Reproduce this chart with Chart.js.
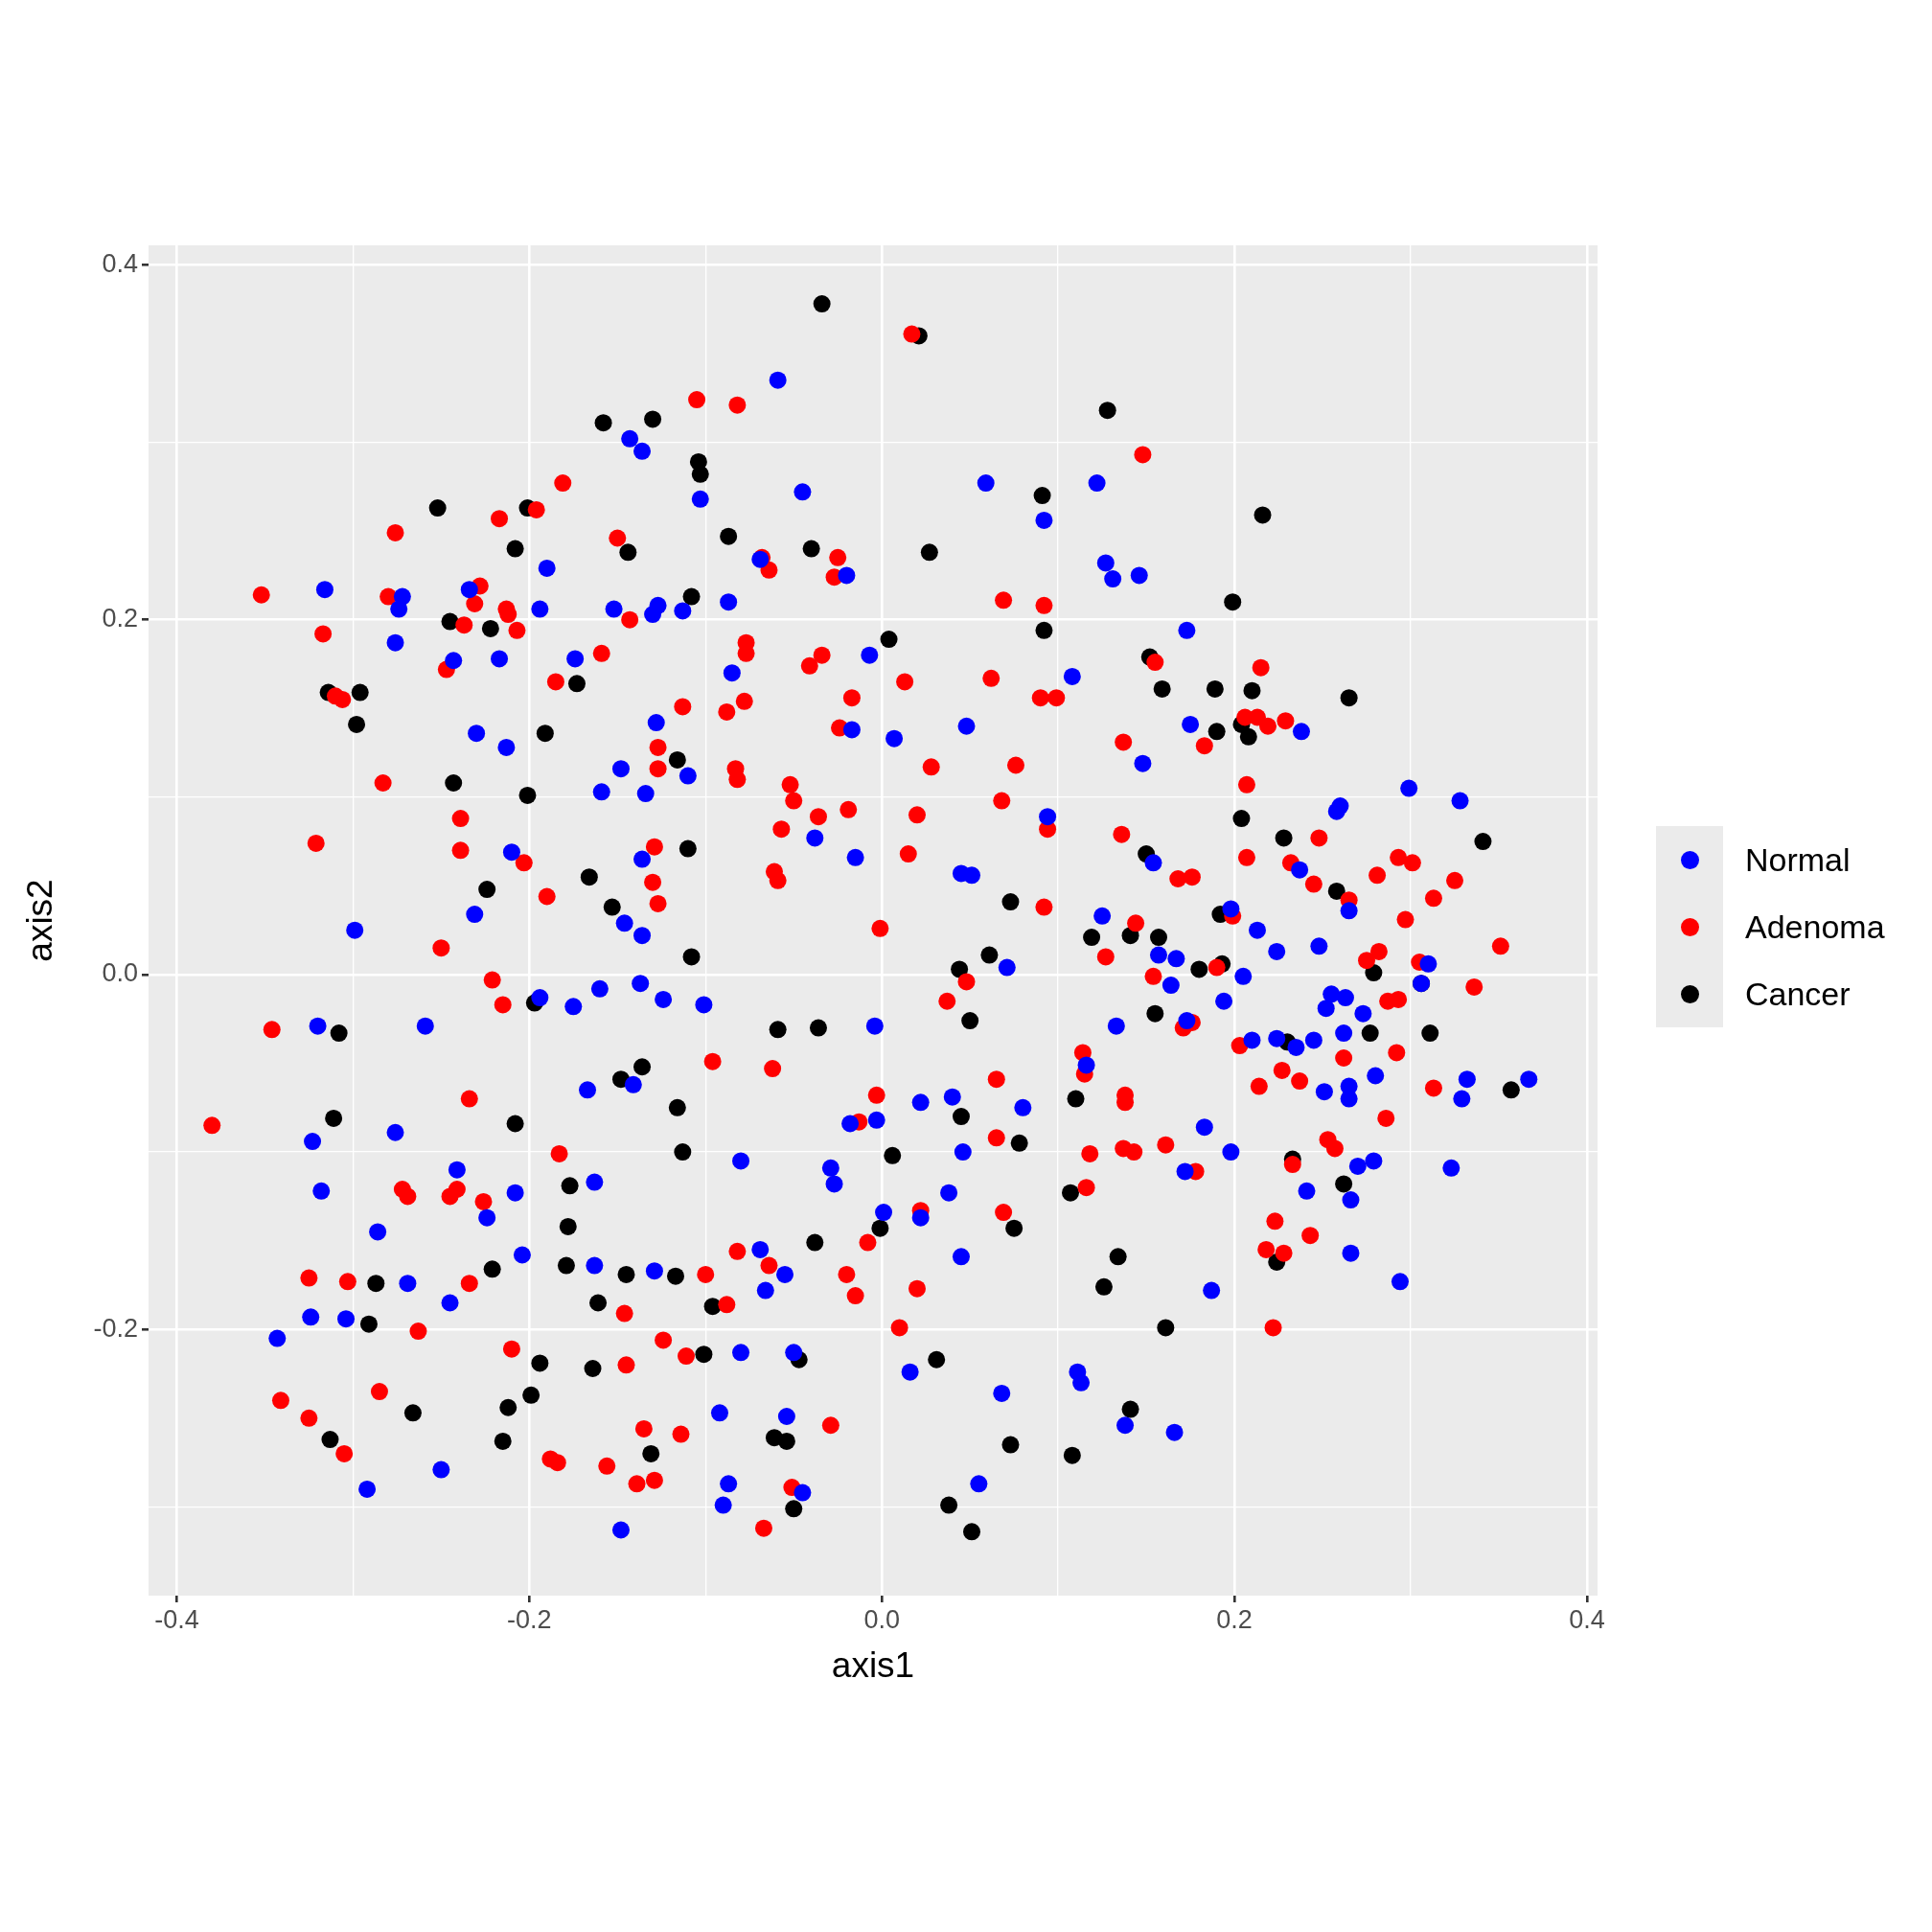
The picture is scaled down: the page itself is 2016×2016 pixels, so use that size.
<!DOCTYPE html>
<html><head><meta charset="utf-8">
<script src="https://cdn.jsdelivr.net/npm/chart.js@4"></script>
<style>
html,body{margin:0;padding:0;background:#fff;}
#wrap{position:relative;width:2016px;height:2016px;}
#legend{position:absolute;left:1728px;top:862px;font-family:"Liberation Sans",Arial,sans-serif;font-size:34px;color:#000;}
.row{position:relative;height:70px;}
.key{position:absolute;left:0;top:0;width:70px;height:70px;background:#EBEBEB;}
.dot{position:absolute;left:26px;top:26px;width:19px;height:19px;border-radius:50%;}
.lab{position:absolute;left:93px;top:16px;white-space:nowrap;}
</style></head>
<body><div id="wrap"><canvas id="c" width="2016" height="2016"></canvas>
<div id="legend"></div></div>
<script>
const seriesNames=["Normal","Adenoma","Cancer"];
const seriesColors=["#0000FF","#FF0000","#000000"];
const xTicks=[-0.4,-0.2,0.0,0.2,0.4];
const yTicks=[-0.2,0.0,0.2,0.4];
const normalX=[-0.316,-0.272,-0.274,-0.276,-0.234,-0.243,-0.217,-0.230,-0.213,-0.190,-0.194,-0.174,-0.152,-0.143,-0.136,-0.130,-0.127,-0.113,-0.128,-0.148,-0.159,-0.134,-0.110,-0.103,-0.087,-0.085,-0.059,-0.045,-0.069,-0.020,-0.007,-0.017,0.007,-0.038,-0.015,0.059,0.092,0.122,0.108,0.127,0.131,0.146,0.148,0.173,0.175,0.238,0.048,0.045,0.051,0.094,0.125,0.154,0.157,0.167,0.164,0.173,0.194,0.198,0.213,0.205,0.224,0.237,0.248,0.265,0.260,0.258,0.299,0.328,0.310,0.306,-0.299,-0.320,-0.259,-0.210,-0.231,-0.194,-0.175,-0.160,-0.146,-0.136,-0.136,-0.137,-0.124,-0.101,-0.167,-0.141,-0.163,-0.129,-0.163,-0.204,-0.208,-0.224,-0.241,-0.245,-0.269,-0.286,-0.276,-0.318,-0.323,-0.324,-0.304,-0.343,-0.250,-0.292,-0.080,-0.080,-0.092,-0.087,-0.090,-0.069,-0.066,-0.055,-0.050,-0.054,-0.045,-0.148,-0.029,-0.027,-0.018,-0.004,-0.003,0.001,0.022,0.022,0.016,0.040,0.038,0.046,0.045,0.071,0.080,0.068,0.055,0.116,0.111,0.113,0.133,0.138,0.166,0.172,0.183,0.187,0.198,0.210,0.224,0.235,0.245,0.252,0.255,0.263,0.262,0.265,0.265,0.266,0.266,0.270,0.273,0.279,0.280,0.251,0.241,0.294,0.323,0.329,0.332,0.367];
const normalY=[0.217,0.213,0.206,0.187,0.217,0.177,0.178,0.136,0.128,0.229,0.206,0.178,0.206,0.302,0.295,0.203,0.208,0.205,0.142,0.116,0.103,0.102,0.112,0.268,0.210,0.170,0.335,0.272,0.234,0.225,0.180,0.138,0.133,0.077,0.066,0.277,0.256,0.277,0.168,0.232,0.223,0.225,0.119,0.194,0.141,0.137,0.140,0.057,0.056,0.089,0.033,0.063,0.011,0.009,-0.006,-0.026,-0.015,0.037,0.025,-0.001,0.013,0.059,0.016,0.036,0.095,0.092,0.105,0.098,0.006,-0.005,0.025,-0.029,-0.029,0.069,0.034,-0.013,-0.018,-0.008,0.029,0.022,0.065,-0.005,-0.014,-0.017,-0.065,-0.062,-0.117,-0.167,-0.164,-0.158,-0.123,-0.137,-0.110,-0.185,-0.174,-0.145,-0.089,-0.122,-0.094,-0.193,-0.194,-0.205,-0.279,-0.290,-0.105,-0.213,-0.247,-0.287,-0.299,-0.155,-0.178,-0.169,-0.213,-0.249,-0.292,-0.313,-0.109,-0.118,-0.084,-0.029,-0.082,-0.134,-0.072,-0.137,-0.224,-0.069,-0.123,-0.100,-0.159,0.004,-0.075,-0.236,-0.287,-0.051,-0.224,-0.230,-0.029,-0.254,-0.258,-0.111,-0.086,-0.178,-0.100,-0.037,-0.036,-0.041,-0.037,-0.019,-0.011,-0.013,-0.033,-0.063,-0.070,-0.127,-0.157,-0.108,-0.022,-0.105,-0.057,-0.066,-0.122,-0.173,-0.109,-0.070,-0.059,-0.059];
const adenomaX=[-0.352,-0.317,-0.276,-0.280,-0.310,-0.306,-0.283,-0.321,-0.239,-0.239,-0.247,-0.237,-0.231,-0.228,-0.217,-0.213,-0.212,-0.207,-0.196,-0.181,-0.185,-0.203,-0.190,-0.150,-0.159,-0.143,-0.127,-0.127,-0.129,-0.130,-0.127,-0.113,-0.105,-0.082,-0.088,-0.083,-0.082,-0.078,-0.077,-0.077,-0.068,-0.064,-0.052,-0.050,-0.057,-0.061,-0.059,-0.041,-0.034,-0.025,-0.027,-0.024,-0.036,-0.017,-0.019,0.013,0.028,0.020,0.015,-0.001,-0.003,-0.013,0.017,0.069,0.062,0.068,0.076,0.092,0.090,0.099,0.094,0.092,0.148,0.155,0.137,0.136,0.144,0.168,0.176,0.176,0.183,0.190,0.199,0.203,0.207,0.207,0.206,0.213,0.215,0.219,0.229,0.232,0.245,0.248,0.265,0.281,0.282,0.275,0.297,0.293,0.301,0.313,0.325,0.305,0.287,0.293,0.292,0.262,0.253,0.257,0.233,0.214,0.227,0.237,0.223,0.228,0.218,0.222,0.243,0.313,0.336,0.351,0.286,0.171,0.154,0.127,0.115,0.114,0.138,0.138,0.137,0.143,0.161,0.178,0.118,0.116,0.065,0.065,0.069,0.048,0.037,0.022,0.020,0.010,-0.008,-0.015,-0.020,-0.029,-0.064,-0.062,-0.096,-0.100,-0.088,-0.082,-0.124,-0.111,-0.114,-0.135,-0.129,-0.139,-0.156,-0.146,-0.145,-0.184,-0.188,-0.210,-0.215,-0.221,-0.226,-0.234,-0.234,-0.241,-0.245,-0.269,-0.272,-0.263,-0.285,-0.305,-0.325,-0.325,-0.303,-0.341,-0.346,-0.380,-0.250,-0.183,-0.051,-0.067];
const adenomaY=[0.214,0.192,0.249,0.213,0.157,0.155,0.108,0.074,0.088,0.070,0.172,0.197,0.209,0.219,0.257,0.206,0.203,0.194,0.262,0.277,0.165,0.063,0.044,0.246,0.181,0.200,0.128,0.116,0.072,0.052,0.040,0.151,0.324,0.321,0.148,0.116,0.110,0.154,0.187,0.181,0.235,0.228,0.107,0.098,0.082,0.058,0.053,0.174,0.180,0.235,0.224,0.139,0.089,0.156,0.093,0.165,0.117,0.090,0.068,0.026,-0.068,-0.083,0.361,0.211,0.167,0.098,0.118,0.208,0.156,0.156,0.082,0.038,0.293,0.176,0.131,0.079,0.029,0.054,0.055,-0.027,0.129,0.004,0.033,-0.040,0.107,0.066,0.145,0.145,0.173,0.140,0.143,0.063,0.051,0.077,0.042,0.056,0.013,0.008,0.031,0.066,0.063,0.043,0.053,0.007,-0.015,-0.014,-0.044,-0.047,-0.093,-0.098,-0.107,-0.063,-0.054,-0.060,-0.139,-0.157,-0.155,-0.199,-0.147,-0.064,-0.007,0.016,-0.081,-0.030,-0.001,0.010,-0.056,-0.044,-0.068,-0.072,-0.098,-0.100,-0.096,-0.111,-0.101,-0.120,-0.059,-0.092,-0.134,-0.004,-0.015,-0.133,-0.177,-0.199,-0.151,-0.181,-0.169,-0.254,-0.164,-0.053,-0.049,-0.169,-0.186,-0.156,-0.206,-0.215,-0.259,-0.256,-0.285,-0.287,-0.277,-0.191,-0.220,-0.275,-0.273,-0.211,-0.017,-0.003,-0.128,-0.070,-0.174,-0.121,-0.125,-0.125,-0.121,-0.201,-0.235,-0.270,-0.250,-0.171,-0.173,-0.240,-0.031,-0.085,0.015,-0.101,-0.289,-0.312];
const cancerX=[-0.314,-0.296,-0.298,-0.308,-0.311,-0.252,-0.245,-0.222,-0.208,-0.201,-0.243,-0.224,-0.201,-0.191,-0.173,-0.158,-0.144,-0.130,-0.104,-0.103,-0.108,-0.116,-0.110,-0.166,-0.153,-0.108,-0.087,-0.040,-0.034,0.021,0.027,0.004,0.128,0.216,0.091,0.092,0.152,0.159,0.189,0.190,0.199,0.204,0.208,0.210,0.265,0.204,0.228,0.150,0.157,0.141,0.180,0.193,0.192,0.230,0.258,0.279,0.277,0.306,0.311,0.341,0.357,0.233,0.262,0.224,0.155,0.119,0.110,0.107,0.126,0.134,0.161,0.141,0.108,0.073,0.075,0.078,0.073,0.061,0.044,0.050,0.045,0.006,-0.001,0.031,0.038,0.051,-0.038,-0.036,-0.059,-0.061,-0.054,-0.050,-0.047,-0.101,-0.096,-0.117,-0.113,-0.116,-0.136,-0.148,-0.145,-0.161,-0.164,-0.178,-0.177,-0.179,-0.199,-0.194,-0.208,-0.197,-0.212,-0.215,-0.221,-0.266,-0.291,-0.287,-0.313,-0.131];
const cancerY=[0.159,0.159,0.141,-0.033,-0.081,0.263,0.199,0.195,0.240,0.263,0.108,0.048,0.101,0.136,0.164,0.311,0.238,0.313,0.289,0.282,0.213,0.121,0.071,0.055,0.038,0.010,0.247,0.240,0.378,0.360,0.238,0.189,0.318,0.259,0.270,0.194,0.179,0.161,0.161,0.137,0.210,0.141,0.134,0.160,0.156,0.088,0.077,0.068,0.021,0.022,0.003,0.006,0.034,-0.038,0.047,0.001,-0.033,-0.005,-0.033,0.075,-0.065,-0.104,-0.118,-0.162,-0.022,0.021,-0.070,-0.123,-0.176,-0.159,-0.199,-0.245,-0.271,-0.265,-0.143,-0.095,0.041,0.011,0.003,-0.026,-0.080,-0.102,-0.143,-0.217,-0.299,-0.314,-0.151,-0.030,-0.031,-0.261,-0.263,-0.301,-0.217,-0.214,-0.187,-0.170,-0.100,-0.075,-0.052,-0.059,-0.169,-0.185,-0.222,-0.142,-0.119,-0.164,-0.237,-0.219,-0.084,-0.016,-0.244,-0.263,-0.166,-0.247,-0.197,-0.174,-0.262,-0.270];

const xs=[normalX,adenomaX,cancerX], ys=[normalY,adenomaY,cancerY];
const datasets=seriesNames.map((n,i)=>({label:n,data:xs[i].map((x,j)=>({x:x,y:ys[i][j]})),
  backgroundColor:seriesColors[i],borderWidth:0,pointRadius:9,pointHoverRadius:9}));
const F='"Liberation Sans", Arial, sans-serif';
function gridCfg(){return {color:'#FFFFFF',lineWidth:c=>(Math.abs(Math.round(c.tick.value*10))%2===0?2.6:1.3),
  drawTicks:true,tickLength:7,tickColor:c=>(Math.abs(Math.round(c.tick.value*10))%2===0?'#333333':'rgba(0,0,0,0)'),tickWidth:2.6};}
const bgPlugin={id:'bg',beforeDraw(ch){const a=ch.chartArea,ctx=ch.ctx;ctx.save();ctx.fillStyle='#EBEBEB';ctx.fillRect(a.left,a.top,a.right-a.left,a.bottom-a.top);ctx.restore();}};
function setTicks(arr){return s=>{const t=[];for(let v=arr[0]-0.1;v<=arr[arr.length-1]+0.101;v+=0.1){const r=Math.round(v*10)/10;if(r>=s.min&&r<=s.max)t.push({value:r});}s.ticks=t;};}
new Chart(document.getElementById('c'),{type:'scatter',data:{datasets},plugins:[bgPlugin],
 options:{responsive:false,animation:false,events:[],
  layout:{padding:{left:22,right:349,top:256,bottom:254}},
  plugins:{legend:{display:false},tooltip:{enabled:false}},
  scales:{
   x:{type:'linear',min:-0.416,max:0.406,afterBuildTicks:setTicks(xTicks),afterFit:s=>{s.height=97;},
      grid:gridCfg(),border:{display:false},
      ticks:{color:'#4D4D4D',font:{family:F,size:27},padding:3,autoSkip:false,maxRotation:0,
        callback:v=>{const r=Math.round(v*10);return r%2===0?(v).toFixed(1):'';}},
      title:{display:true,text:'axis1',color:'#000',font:{family:F,size:37},padding:{top:2,bottom:0}}},
   y:{type:'linear',min:-0.350,max:0.411,afterBuildTicks:setTicks(yTicks),afterFit:s=>{s.width=133;},
      grid:gridCfg(),border:{display:false},
      ticks:{color:'#4D4D4D',font:{family:F,size:27},padding:4,autoSkip:false,
        callback:v=>{const r=Math.round(v*10);return r%2===0?(v).toFixed(1):'';}},
      title:{display:true,text:'axis2',color:'#000',font:{family:F,size:37},padding:{top:0,bottom:0}}}
  }}});
const lg=document.getElementById('legend');
seriesNames.forEach((n,i)=>{lg.insertAdjacentHTML('beforeend',`<div class="row"><div class="key"><div class="dot" style="background:${seriesColors[i]}"></div></div><div class="lab">${n}</div></div>`);});
</script></body></html>
